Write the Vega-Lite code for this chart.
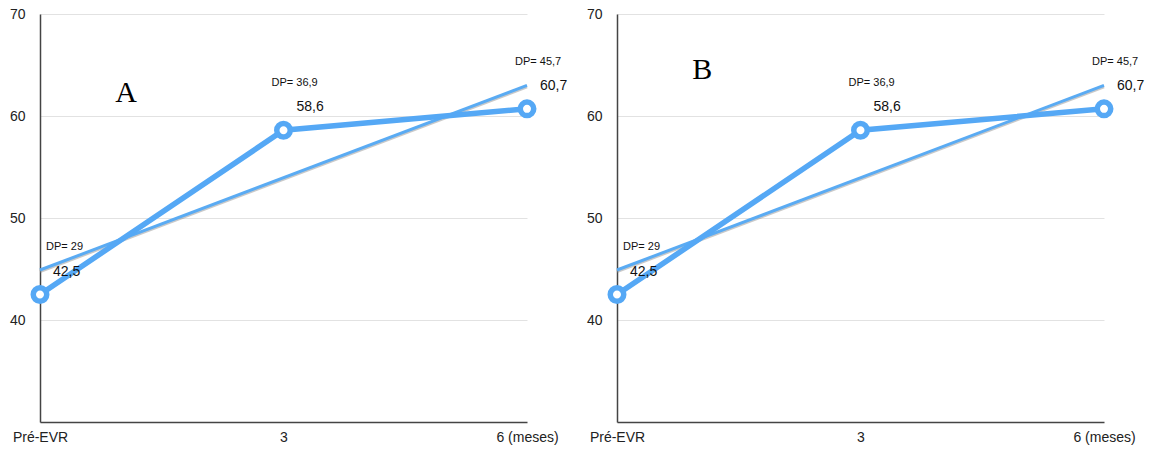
{
  "$schema": "https://vega.github.io/schema/vega-lite/v6.json",
  "background": "white",
  "padding": {"left": 9, "top": 7, "right": 2, "bottom": 5},
  "spacing": 18,
  "datasets": {
    "means": [
      {"t": 0, "v": 42.5, "lbl": "42,5", "dp": "DP= 29"},
      {"t": 1, "v": 58.6, "lbl": "58,6", "dp": "DP= 36,9"},
      {"t": 2, "v": 60.7, "lbl": "60,7", "dp": "DP= 45,7"}
    ],
    "trend": [
      {"t": 0, "v": 44.9},
      {"t": 2, "v": 63.0}
    ]
  },
  "hconcat": [
    {
      "width": 487,
      "height": 408,
      "encoding": {
        "x": {"field": "t", "type": "quantitative", "scale": {"domain": [0, 2], "nice": false, "zero": false},
          "axis": {"values": [0, 1, 2], "title": null, "grid": false, "ticks": false, "labelPadding": 8, "labelFlush": false,
            "labelExpr": "datum.value == 0 ? 'Pré-EVR' : datum.value == 1 ? '3' : '6 (meses)'"}},
        "y": {"field": "v", "type": "quantitative", "scale": {"domain": [30, 70], "nice": false, "zero": false},
          "axis": {"values": [40, 50, 60, 70], "title": null, "grid": true, "ticks": false, "labelPadding": 15}}
      },
      "layer": [
        {"data": {"name": "trend"}, "mark": {"type": "line", "color": "#888888", "opacity": 0.45, "strokeWidth": 3, "yOffset": 1.5}},
        {"data": {"name": "trend"}, "mark": {"type": "line", "color": "#5aabf3", "strokeWidth": 3}},
        {"data": {"name": "means"}, "mark": {"type": "line", "color": "#55a8f5", "strokeWidth": 5.5}},
        {"data": {"name": "means"}, "mark": {"type": "point", "shape": "circle", "filled": true, "fill": "white", "stroke": "#55a8f5", "strokeWidth": 5.5, "size": 182, "opacity": 1}},
        {"data": {"name": "means"}, "mark": {"type": "text", "align": "left", "baseline": "middle", "dx": 13, "dy": -23, "fontSize": 14, "font": "Liberation Sans", "color": "#111"}, "encoding": {"text": {"field": "lbl"}}},
        {"data": {"name": "means"}, "transform": [{"filter": "datum.t == 0"}], "mark": {"type": "text", "align": "left", "baseline": "middle", "dx": 6, "dy": -48, "fontSize": 11, "font": "Liberation Sans", "color": "#111"}, "encoding": {"text": {"field": "dp"}}},
        {"data": {"name": "means"}, "transform": [{"filter": "datum.t > 0"}], "mark": {"type": "text", "align": "left", "baseline": "middle", "dx": -12, "dy": -47, "fontSize": 11, "font": "Liberation Sans", "color": "#111"}, "encoding": {"text": {"field": "dp"}}},
        {"data": {"values": [{"t": 0.353, "v": 62.3, "letter": "A"}]}, "mark": {"type": "text", "align": "center", "baseline": "middle", "fontSize": 30, "font": "Liberation Serif", "color": "#000"}, "encoding": {"text": {"field": "letter"}}}
      ]
    },
    {
      "width": 487,
      "height": 408,
      "encoding": {
        "x": {"field": "t", "type": "quantitative", "scale": {"domain": [0, 2], "nice": false, "zero": false},
          "axis": {"values": [0, 1, 2], "title": null, "grid": false, "ticks": false, "labelPadding": 8, "labelFlush": false,
            "labelExpr": "datum.value == 0 ? 'Pré-EVR' : datum.value == 1 ? '3' : '6 (meses)'"}},
        "y": {"field": "v", "type": "quantitative", "scale": {"domain": [30, 70], "nice": false, "zero": false},
          "axis": {"values": [40, 50, 60, 70], "title": null, "grid": true, "ticks": false, "labelPadding": 15}}
      },
      "layer": [
        {"data": {"name": "trend"}, "mark": {"type": "line", "color": "#888888", "opacity": 0.45, "strokeWidth": 3, "yOffset": 1.5}},
        {"data": {"name": "trend"}, "mark": {"type": "line", "color": "#5aabf3", "strokeWidth": 3}},
        {"data": {"name": "means"}, "mark": {"type": "line", "color": "#55a8f5", "strokeWidth": 5.5}},
        {"data": {"name": "means"}, "mark": {"type": "point", "shape": "circle", "filled": true, "fill": "white", "stroke": "#55a8f5", "strokeWidth": 5.5, "size": 182, "opacity": 1}},
        {"data": {"name": "means"}, "mark": {"type": "text", "align": "left", "baseline": "middle", "dx": 13, "dy": -23, "fontSize": 14, "font": "Liberation Sans", "color": "#111"}, "encoding": {"text": {"field": "lbl"}}},
        {"data": {"name": "means"}, "transform": [{"filter": "datum.t == 0"}], "mark": {"type": "text", "align": "left", "baseline": "middle", "dx": 6, "dy": -48, "fontSize": 11, "font": "Liberation Sans", "color": "#111"}, "encoding": {"text": {"field": "dp"}}},
        {"data": {"name": "means"}, "transform": [{"filter": "datum.t > 0"}], "mark": {"type": "text", "align": "left", "baseline": "middle", "dx": -12, "dy": -47, "fontSize": 11, "font": "Liberation Sans", "color": "#111"}, "encoding": {"text": {"field": "dp"}}},
        {"data": {"values": [{"t": 0.35, "v": 64.5, "letter": "B"}]}, "mark": {"type": "text", "align": "center", "baseline": "middle", "fontSize": 30, "font": "Liberation Serif", "color": "#000"}, "encoding": {"text": {"field": "letter"}}}
      ]
    }
  ],
  "config": {
    "view": {"stroke": null},
    "font": "Liberation Sans",
    "axis": {
      "labelFont": "Liberation Sans",
      "labelFontSize": 14,
      "labelColor": "#222",
      "domainColor": "#444",
      "domainWidth": 1.5,
      "gridColor": "#e2e2e2",
      "gridWidth": 1
    }
  }
}
